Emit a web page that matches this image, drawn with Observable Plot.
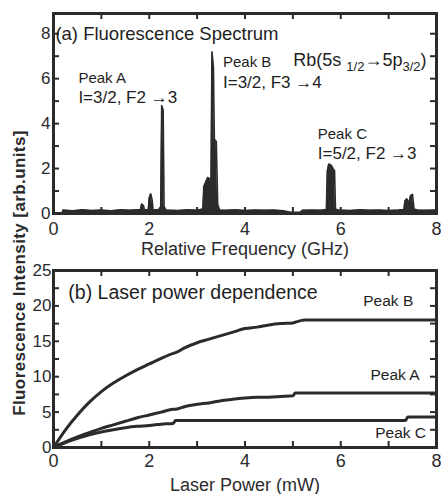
<!DOCTYPE html>
<html><head><meta charset="utf-8">
<script src="https://cdn.jsdelivr.net/npm/d3@7"></script>
<script src="https://cdn.jsdelivr.net/npm/@observablehq/plot@0.6"></script>
<style>
body{margin:0;background:#fff;}
#wrap{position:relative;width:441px;height:494px;overflow:hidden;font-family:"Liberation Sans",Arial,sans-serif;background:#fff;}
#wrap svg{position:absolute;left:0;}
#ytitle{position:absolute;left:20px;top:273px;transform:translate(-50%,-50%) rotate(-90deg);white-space:nowrap;font-weight:bold;font-size:17px;letter-spacing:0.4px;color:#2a2a2a;}
</style></head><body><div id="wrap"></div>
<script>
// ---- Panel (a): fluorescence spectrum ----
const specFreq = [0.00,0.18,0.20,0.40,0.60,0.80,1.00,1.20,1.40,1.60,1.75,1.82,1.84,1.88,1.90,1.98,2.00,2.03,2.06,2.08,2.20,2.24,2.26,2.29,2.31,2.35,2.60,2.80,3.00,3.12,3.14,3.18,3.22,3.26,3.29,3.31,3.34,3.36,3.40,3.43,3.47,3.60,3.80,4.00,4.20,4.40,4.60,4.80,4.95,5.15,5.20,5.40,5.60,5.70,5.72,5.75,5.80,5.84,5.87,5.89,5.95,6.20,6.40,6.60,6.80,7.00,7.20,7.32,7.34,7.38,7.42,7.46,7.50,7.53,7.60,7.80,8.00];
const specIntensity = [0.03,0.03,0.15,0.12,0.16,0.13,0.15,0.12,0.16,0.14,0.17,0.18,0.42,0.35,0.15,0.18,0.70,0.88,0.60,0.15,0.18,0.30,4.80,4.60,0.30,0.15,0.13,0.16,0.14,0.20,1.20,1.40,1.60,1.55,1.30,7.20,6.50,3.30,3.20,0.40,0.15,0.14,0.16,0.13,0.15,0.14,0.15,0.12,0.05,0.05,0.14,0.15,0.14,0.18,1.90,2.20,2.15,2.00,1.90,0.20,0.15,0.13,0.16,0.14,0.15,0.13,0.15,0.18,0.55,0.65,0.45,0.80,0.85,0.20,0.15,0.14,0.15];
const xLabelsA = [0,2,4,6,8];
const xTicksA = [0,1,2,3,4,5,6,7,8];
const yLabelsA = [0,2,4,6,8];
const yTicksA = [0,1,2,3,4,5,6,7,8];
const annotA = [
  {x:0.04, y:8.0, text:"(a) Fluorescence Spectrum", size:18.5},
  {x:0.52, y:6.0, text:"Peak A", size:15},
  {x:0.52, y:5.16, text:"I=3/2, F2 \u21923", size:17},
  {x:3.54, y:6.72, text:"Peak B", size:15},
  {x:3.54, y:5.83, text:"I=3/2, F3 \u21924", size:17},
  {x:5.52, y:3.55, text:"Peak C", size:15},
  {x:5.52, y:2.66, text:"I=5/2, F2 \u21923", size:17}
];

// ---- Panel (b): laser power dependence ----
const power = [0,0.25,0.5,0.75,1,1.25,1.5,1.75,2,2.25,2.5,2.55,2.75,3,3.25,3.5,3.75,4,4.25,4.5,4.75,5,5.05,5.25,5.5,6,6.5,7,7.35,7.4,7.5,8];
const peakB = [0,2.5,4.6,6.4,7.9,9.1,10.1,11.0,11.8,12.6,13.3,13.4,14.1,14.8,15.3,15.8,16.3,16.8,17.0,17.3,17.5,17.6,17.7,18.0,18.0,18.0,18.0,18.0,18.0,18.0,18.0,18.0];
const peakA = [0,0.8,1.5,2.1,2.7,3.2,3.7,4.2,4.6,5.0,5.4,5.4,5.8,6.1,6.3,6.6,6.8,7.0,7.1,7.1,7.2,7.3,7.7,7.7,7.7,7.7,7.7,7.7,7.7,7.7,7.7,7.7];
const peakC = [0,0.7,1.3,1.8,2.2,2.5,2.8,3.0,3.1,3.3,3.4,3.8,3.8,3.8,3.8,3.8,3.8,3.8,3.8,3.8,3.8,3.8,3.8,3.8,3.8,3.8,3.8,3.8,3.8,4.3,4.3,4.3];
const xLabelsB = [0,2,4,6,8];
const xTicksB = [0,1,2,3,4,5,6,7,8];
const yLabelsB = [0,5,10,15,20,25];
const yTicksB = [0,2.5,5,7.5,10,12.5,15,17.5,20,22.5,25];
const annotB = [
  {x:0.31, y:21.9, text:"(b) Laser power dependence", size:19.5},
  {x:6.47, y:20.7, text:"Peak B", size:15.5},
  {x:6.62, y:10.3, text:"Peak A", size:15.5},
  {x:6.72, y:2.1, text:"Peak C", size:15.5}
];

const ink = "#2b2b2b";
const font = "'Liberation Sans', Arial, sans-serif";

function tickMarks(xt, yt, H, W, len) {
  return [
    Plot.tickX(xt, {x: d => d, insetTop: H - len, stroke: ink, strokeWidth: 2}),
    Plot.tickX(xt, {x: d => d, insetBottom: H - len, stroke: ink, strokeWidth: 2}),
    Plot.tickY(yt, {y: d => d, insetRight: W - len, stroke: ink, strokeWidth: 2}),
    Plot.tickY(yt, {y: d => d, insetLeft: W - len, stroke: ink, strokeWidth: 2})
  ];
}

const wrap = document.getElementById("wrap");

// Panel A
const specData = specFreq.map((f, i) => ({f, v: specIntensity[i]}));
const hA = 266, mtA = 13, mbA = 53, mlA = 53, mrA = 5;
const plotA = Plot.plot({
  width: 441, height: hA, marginTop: mtA, marginBottom: mbA, marginLeft: mlA, marginRight: mrA,
  style: {fontFamily: font, fontSize: "18px", color: ink, background: "transparent"},
  x: {domain: [0, 8]},
  y: {domain: [0, 8.9]},
  marks: [
    Plot.areaY(specData, {x: "f", y: "v", fill: ink}),
    Plot.line(specData, {x: "f", y: "v", stroke: ink, strokeWidth: 1.6}),
    ...tickMarks(xTicksA, yTicksA, hA - mtA - mbA, 441 - mlA - mrA, 6),
    Plot.frame({stroke: ink, strokeWidth: 3}),
    Plot.axisX(xLabelsA, {tickSize: 0, tickPadding: 9, fontSize: 18, label: "Relative Frequency (GHz)", labelAnchor: "center", labelOffset: 41, labelArrow: "none"}),
    Plot.axisY(yLabelsA, {tickSize: 0, tickPadding: 3, fontSize: 17, label: null}),
    Plot.text(annotA, {x: "x", y: "y", text: "text", fontSize: "size", textAnchor: "start", fill: "#1e1e1e"})
  ]
});
plotA.style.top = "0px";
wrap.appendChild(plotA);

// Rb transition label with subscripts
{
  const sx = plotA.scale("x"), sy = plotA.scale("y");
  const t = d3.select(plotA).append("text")
    .attr("x", sx.apply(5.02)).attr("y", sy.apply(6.81)).attr("dy", "0.35em")
    .attr("text-anchor", "start")
    .attr("font-size", 18).attr("fill", "#1e1e1e").attr("font-family", font);
  t.append("tspan").text("Rb(5s ");
  t.append("tspan").attr("font-size", 13).attr("dy", 5).text("1/2");
  t.append("tspan").attr("dy", -5).text("\u21925p");
  t.append("tspan").attr("font-size", 13).attr("dy", 5).text("3/2");
  t.append("tspan").attr("dy", -5).text(")");
}

// Panel B
const curves = [
  ...power.map((p, i) => ({p, v: peakB[i], s: "B"})),
  ...power.map((p, i) => ({p, v: peakA[i], s: "A"})),
  ...power.map((p, i) => ({p, v: peakC[i], s: "C"}))
];
const hB = 239, mtB = 15, mbB = 47, mlB = 53, mrB = 5;
const plotB = Plot.plot({
  width: 441, height: hB, marginTop: mtB, marginBottom: mbB, marginLeft: mlB, marginRight: mrB,
  style: {fontFamily: font, fontSize: "18px", color: ink, background: "transparent"},
  x: {domain: [0, 8]},
  y: {domain: [0, 25]},
  marks: [
    Plot.line(curves, {x: "p", y: "v", z: "s", stroke: ink, strokeWidth: 3, curve: "monotone-x"}),
    ...tickMarks(xTicksB, yTicksB, hB - mtB - mbB, 441 - mlB - mrB, 6),
    Plot.frame({stroke: ink, strokeWidth: 3}),
    Plot.axisX(xLabelsB, {tickSize: 0, tickPadding: 7, fontSize: 18, label: "Laser Power (mW)", labelAnchor: "center", labelOffset: 43, labelArrow: "none"}),
    Plot.axisY(yLabelsB, {tickSize: 0, tickPadding: 2, fontSize: 17, label: null}),
    Plot.text(annotB, {x: "x", y: "y", text: "text", fontSize: "size", textAnchor: "start", fill: "#1e1e1e"})
  ]
});
plotB.style.top = "255px";
wrap.appendChild(plotB);

const yt = document.createElement("div");
yt.id = "ytitle";
yt.textContent = "Fluorescence Intensity [arb.units]";
wrap.appendChild(yt);
</script>
</body></html>
